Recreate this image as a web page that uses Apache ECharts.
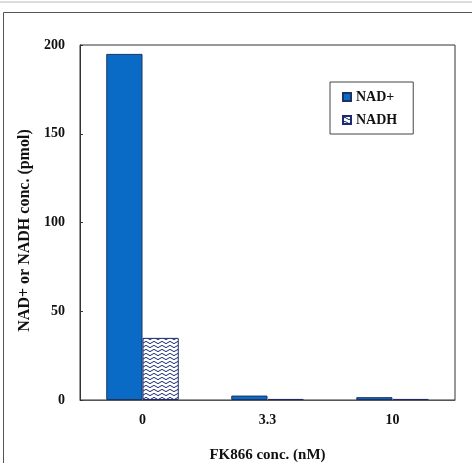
<!DOCTYPE html>
<html>
<head>
<meta charset="utf-8">
<script src="https://cdn.jsdelivr.net/npm/echarts@6/dist/echarts.min.js"></script>
<style>html,body{margin:0;padding:0;background:#fff;overflow:hidden}#c{width:472px;height:463px}</style>
</head>
<body>
<div id="c"></div>
<script>
var categories = ['0', '3.3', '10'];
var nadPlus = [195, 2.5, 1.6];
var nadh = [35, 0.6, 0.6];
var yTicks = [0, 50, 100, 150, 200];

function wavePattern() {
  var c = document.createElement('canvas');
  c.width = 8; c.height = 4;
  var g = c.getContext('2d');
  g.fillStyle = '#ffffff';
  g.fillRect(0, 0, 8, 4);
  g.strokeStyle = '#1c2a6e';
  g.lineWidth = 1;
  g.beginPath();
  g.moveTo(0, 2.5);
  g.quadraticCurveTo(2, 0.2, 4, 2.5);
  g.quadraticCurveTo(6, 4.8, 8, 2.5);
  g.stroke();
  return c;
}
var pat = {image: wavePattern(), repeat: 'repeat'};

var font = '"Liberation Serif", "Times New Roman", serif';
var chart = echarts.init(document.getElementById('c'), null, {width: 472, height: 463});
chart.setOption({
  animation: false,
  backgroundColor: '#fff',
  graphic: [
    {type: 'line', shape: {x1: 0, y1: 2, x2: 472, y2: 2}, style: {stroke: '#dcdcdc', lineWidth: 2}},
    {type: 'polyline', shape: {points: [[3.5, 463], [3.5, 12.5], [472, 12.5]]}, style: {stroke: '#555', lineWidth: 1, fill: null}}
  ],
  grid: {left: 80, right: 17, top: 45, bottom: 63, show: true, borderColor: '#333', borderWidth: 1,
    containLabel: false, outerBoundsMode: 'none'},
  legend: {
    orient: 'vertical', left: 330, top: 82, width: 80,
    padding: [8, 16, 7, 12], itemGap: 9,
    borderColor: '#444', borderWidth: 1,
    itemWidth: 8, itemHeight: 8,
    textStyle: {fontFamily: font, fontWeight: 'bold', fontSize: 14, color: '#111'},
    data: [
      {name: 'NAD+', icon: 'rect'},
      {name: 'NADH', icon: 'rect'}
    ]
  },
  xAxis: {
    type: 'category', data: categories,
    name: 'FK866 conc. (nM)', nameLocation: 'middle', nameGap: 48,
    nameTextStyle: {fontFamily: font, fontWeight: 'bold', fontSize: 15, color: '#111'},
    axisLine: {lineStyle: {color: '#555'}},
    axisTick: {inside: true, length: 3, lineStyle: {color: '#333'}},
    axisLabel: {fontFamily: font, fontWeight: 'bold', fontSize: 14, color: '#111', margin: 13}
  },
  yAxis: {
    type: 'value', min: 0, max: 200, interval: 50,
    name: 'NAD+ or NADH conc. (pmol)', nameLocation: 'middle', nameGap: 42,
    nameTextStyle: {fontFamily: font, fontWeight: 'bold', fontSize: 16, color: '#111', padding: [0, 16, 0, 0]},
    axisLine: {show: true, lineStyle: {color: '#333'}},
    axisTick: {show: true, inside: true, length: 3, lineStyle: {color: '#333'}},
    splitLine: {show: false},
    axisLabel: {fontFamily: font, fontWeight: 'bold', fontSize: 14, color: '#111', margin: 15,
      formatter: function (v) { return yTicks.indexOf(v) >= 0 ? String(v) : ''; }}
  },
  series: [
    {name: 'NAD+', type: 'bar', data: nadPlus, barGap: '0%', barCategoryGap: '42%',
      itemStyle: {color: '#0a6bc6', borderColor: '#1c3260', borderWidth: 1}},
    {name: 'NADH', type: 'bar', data: nadh,
      itemStyle: {color: pat, borderColor: '#1c2a6e', borderWidth: 1}}
  ]
});
</script>
</body>
</html>
